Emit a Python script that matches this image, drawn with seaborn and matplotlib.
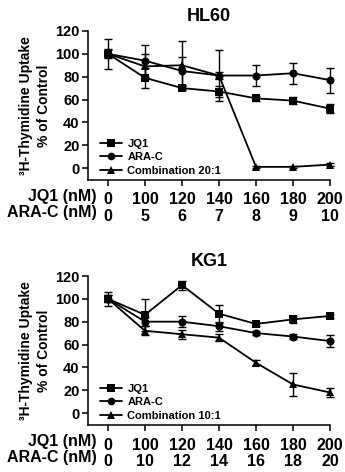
import numpy as np
import pandas as pd
import seaborn as sns
import matplotlib.pyplot as plt

# dose labels on the x axis
jq1_doses = [0, 100, 120, 140, 160, 180, 200]
arac_hl60 = [0, 5, 6, 7, 8, 9, 10]
arac_kg1 = [0, 10, 12, 14, 16, 18, 20]

# HL60 means and SEM (% of control)
hl60_jq1 = [100, 79, 70, 67, 61, 59, 52]
hl60_jq1_err = [3, 9, 2, 5, 2, 3, 4]
hl60_arac = [100, 94, 85, 81, 81, 83, 77]
hl60_arac_err = [13, 14, 12, 22, 9, 9, 11]
hl60_combo = [100, 89, 90, 81, 1, 1, 3]
hl60_combo_err = [4, 11, 21, 3, 1, 1, 1]

# KG1 means and SEM (% of control)
kg1_jq1 = [100, 86, 112, 87, 78, 82, 85]
kg1_jq1_err = [3, 14, 4, 8, 2, 3, 2]
kg1_arac = [100, 80, 80, 76, 70, 67, 63]
kg1_arac_err = [6, 4, 5, 4, 2, 2, 5]
kg1_combo = [100, 72, 69, 66, 44, 25, 18]
kg1_combo_err = [3, 4, 4, 3, 2, 10, 4]

sns.set_style("ticks", {"axes.edgecolor": "black", "text.color": "black",
                        "axes.labelcolor": "black", "xtick.color": "black",
                        "ytick.color": "black"})
plt.rcParams['font.family'] = ['Liberation Sans', 'DejaVu Sans']
plt.rcParams['font.weight'] = 'bold'


def draw_panel(ax, title, arac, series):
    pos = np.arange(len(jq1_doses))
    rows = []
    for name, vals, errs in series:
        for p, v in zip(pos, vals):
            rows.append({"pos": p, "value": v, "group": name})
    df = pd.DataFrame(rows)
    names = [s[0] for s in series]
    markers = dict(zip(names, ["s", "o", "^"]))
    sns.lineplot(data=df, x="pos", y="value", hue="group", style="group",
                 markers=markers, dashes=False, palette=["black"] * 3,
                 markersize=5.8, linewidth=1.3, markeredgewidth=0,
                 ax=ax, clip_on=False)
    for name, vals, errs in series:
        ax.errorbar(pos, vals, yerr=errs, fmt="none", ecolor="black",
                    elinewidth=1.0, capsize=3, capthick=1.0, clip_on=False)

    ax.set_xlim(-0.54, 6)
    ax.set_ylim(-10.5, 120)
    ax.set_yticks([0, 20, 40, 60, 80, 100, 120])
    ax.set_xticks(pos)
    ax.set_xticklabels([f"{j}\n{a}" for j, a in zip(jq1_doses, arac)],
                       fontsize=11.5, fontweight='bold', linespacing=1.12)
    ax.tick_params(axis='y', labelsize=10.5, length=4, width=1.1, pad=2)
    ax.tick_params(axis='x', length=4, width=1.1, pad=5)
    for lab in ax.get_yticklabels():
        lab.set_fontweight('bold')
    ax.spines['left'].set_linewidth(1.1)
    ax.spines['bottom'].set_linewidth(1.1)
    sns.despine(ax=ax)
    ax.set_xlabel("")
    ax.set_ylabel("³H-Thymidine Uptake\n% of Control", fontsize=10,
                  fontweight='bold', labelpad=3, linespacing=1.35)
    ax.set_title(title, fontsize=13, fontweight='bold', pad=7)
    ax.text(0.037, -0.06, "JQ1 (nM)\nARA-C (nM)", transform=ax.transAxes,
            ha='right', va='top', fontsize=11.5, fontweight='bold',
            linespacing=1.12, multialignment='right')
    leg = ax.legend(loc='lower left', frameon=False, fontsize=8,
                    handlelength=2.0, handletextpad=0.5, labelspacing=0.3,
                    borderaxespad=0.0, bbox_to_anchor=(0.03, 0.0))
    for t in leg.get_texts():
        t.set_fontweight('bold')
    for h in leg.legend_handles:
        h.set_markersize(5.5)


fig = plt.figure(figsize=(3.45, 4.72), dpi=100)
ax1 = fig.add_axes([88 / 345, 1 - 180 / 472, 242 / 345, 149 / 472])
ax2 = fig.add_axes([88 / 345, 1 - 425 / 472, 242 / 345, 149 / 472])

draw_panel(ax1, "HL60", arac_hl60,
           [("JQ1", hl60_jq1, hl60_jq1_err),
            ("ARA-C", hl60_arac, hl60_arac_err),
            ("Combination 20:1", hl60_combo, hl60_combo_err)])
draw_panel(ax2, "KG1", arac_kg1,
           [("JQ1", kg1_jq1, kg1_jq1_err),
            ("ARA-C", kg1_arac, kg1_arac_err),
            ("Combination 10:1", kg1_combo, kg1_combo_err)])

fig.savefig("out.png", dpi=100)
